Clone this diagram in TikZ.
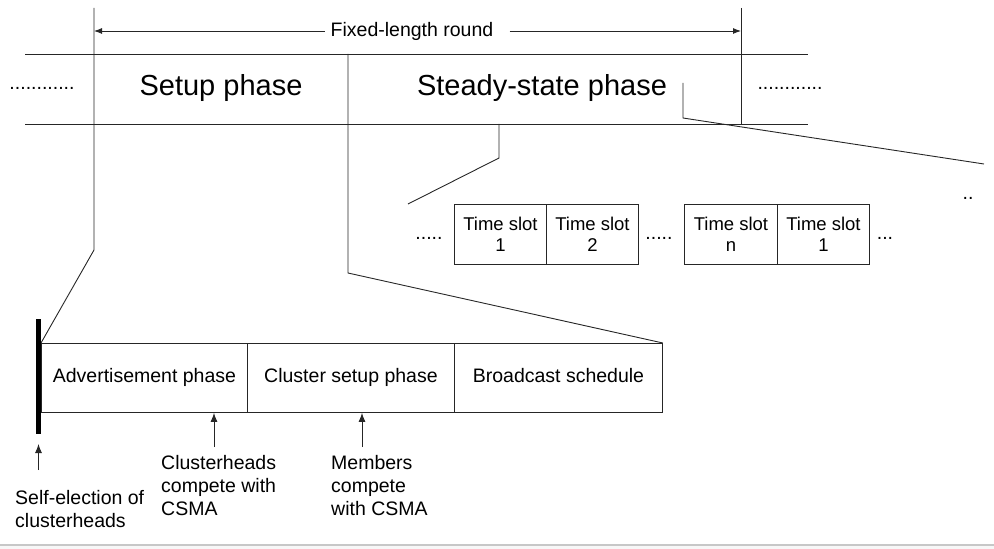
\documentclass[tikz,border=0pt]{standalone}
\usepackage{fontspec}
\setmainfont{Liberation Sans}
\usetikzlibrary{arrows.meta}
\begin{document}
\begin{tikzpicture}[x=1bp,y=-1bp,
  ln/.style={line width=0.9bp, draw=black!85},
  big/.style={font=\fontsize{29bp}{34bp}\selectfont, inner sep=0pt},
  sml/.style={font=\fontsize{19.5bp}{23bp}\selectfont, inner sep=0pt},
  cell/.style={ln, font=\fontsize{19.5bp}{23bp}\selectfont, inner sep=0pt, anchor=north west, minimum height=69bp, text height=14bp, text depth=4bp},
  slot/.style={ln, font=\fontsize{18.5bp}{21bp}\selectfont, inner sep=0pt, anchor=north west, minimum height=60bp, minimum width=92bp, align=center},
  tipa/.style={-{Latex[length=8bp,width=6bp]}},
  tipb/.style={-{Latex[length=9bp,width=7bp]}},
  note/.style={sml, align=left, anchor=north west}
]
\useasboundingbox (0,0) rectangle (994,549);
\fill[black!3] (0,545) rectangle (994,549);
\draw[black!22, line width=1.5bp] (0,545) -- (994,545);

% top band
\coordinate (bandTL) at (25,54);
\coordinate (bandTR) at (808,54);
\coordinate (bandBL) at (25,124);
\coordinate (bandBR) at (808,124);
\draw[ln] (bandTL) -- (bandTR);
\draw[ln] (bandBL) -- (bandBR);

% round boundaries
\coordinate (v1top) at (94,8);
\coordinate (v1bot) at (94,250);
\coordinate (v2top) at (741,8);
\coordinate (v2bot) at (741,124);
\coordinate (v3top) at (348,54);
\coordinate (v3bot) at (348,273);
\coordinate (a1) at (94,31);
\coordinate (a2) at (741,31);

% bottom boxes
\node[cell, minimum width=206bp] (adv) at (41,343) {Advertisement phase};
\node[cell, minimum width=207bp] (clu) at (247,343) {Cluster setup phase};
\node[cell, minimum width=208bp] (bro) at (454,343) {Broadcast schedule};

\draw[ln] (v1top) -- (v1bot) -- (adv.north west);
\draw[ln] (v2top) -- (v2bot);
\draw[ln] (v3top) -- (v3bot) -- (bro.north east);

% top labels
\node[sml] (fl) at (412,31) {Fixed-length round};
\draw[ln, tipa] ([xshift=-6bp]fl.west) -- (a1);
\draw[ln, tipa] ([xshift=16bp]fl.east) -- (a2);

\node[sml] (dl) at (42,88) {............};
\node[big] (setup) at (221,88) {Setup phase};
\node[big] (steady) at (542,88) {Steady-state phase};
\node[sml] (dr) at (790,88) {............};

% thick bar
\fill[black] (36,319) rectangle (41,434);

% time slots
\node[slot] (t1) at (454,204) {Time slot\\1};
\node[slot] (t2) at (546,204) {Time slot\\2};
\node[slot, minimum width=93bp] (tn) at (684,204) {Time slot\\n};
\node[slot] (t1b) at (777,204) {Time slot\\1};
\node[sml] (d1) at (429,238) {.....};
\node[sml] (d2) at (659,238) {.....};
\node[sml] (d3) at (885,238) {...};
\node[sml] (d4) at (968,198) {..};

% steady-state zoom lines
\coordinate (s1) at (499,124);
\coordinate (s2) at (499,158);
\coordinate (s3) at (408,204);
\draw[ln] (s1) -- (s2) -- (s3);
\coordinate (r1) at (683,83);
\coordinate (r2) at (683,118);
\coordinate (r3) at (984,164);
\draw[ln] (r1) -- (r2) -- (r3);

% annotations
\node[note] (n1) at (15,490) {Self-election of\\clusterheads};
\node[note] (n2) at (161,455) {Clusterheads\\compete with\\CSMA};
\node[note] (n3) at (331,455) {Members\\compete\\with CSMA};
\coordinate (n1a) at (38.5,470);
\coordinate (n1t) at (38.5,444);
\coordinate (n2a) at (214,447);
\coordinate (n3a) at (362,447);
\draw[ln, tipb] (n1a) -- (n1t);
\draw[ln, tipb] (n2a) -- (adv.south -| n2a);
\draw[ln, tipb] (n3a) -- (clu.south -| n3a);
\end{tikzpicture}
\end{document}
